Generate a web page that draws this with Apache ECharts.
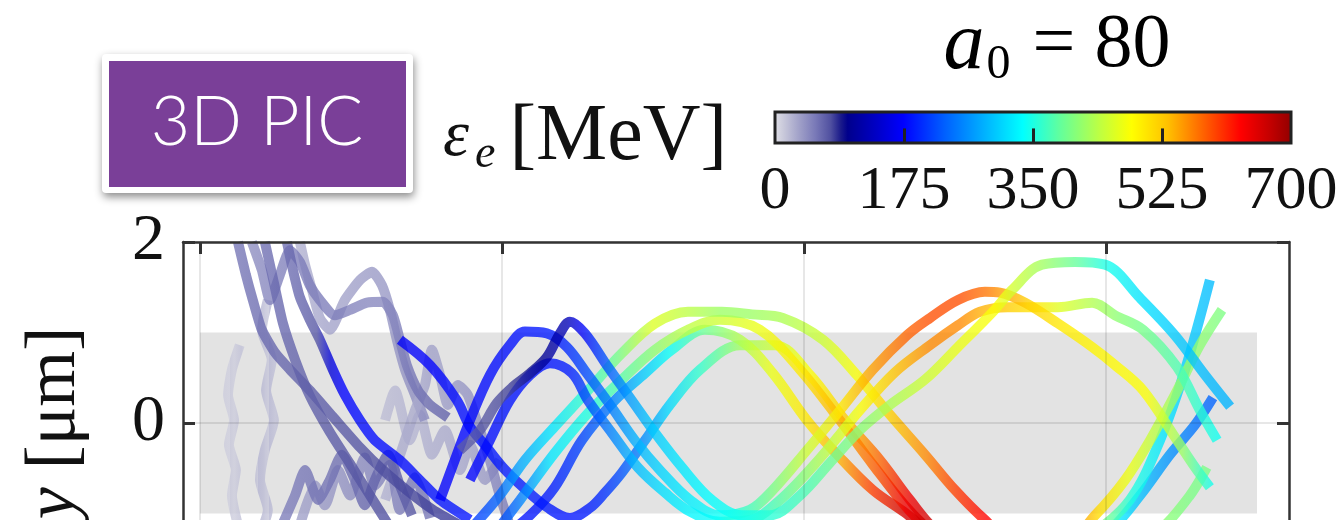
<!DOCTYPE html>
<html><head><meta charset="utf-8">
<script src="https://cdn.jsdelivr.net/npm/echarts@6/dist/echarts.min.js"></script>
<style>html,body{margin:0;padding:0;background:#fff}#c{width:1342px;height:520px}</style>
</head><body><div id="c"></div>
<script>
// ---------- data ----------
const X_TICKS = [0, 10, 20, 30];
const Y_RANGE = [-2, 2];
const Y_STEP = 2;
const BAND_X = [0, 35];
const BAND_Y = [-1, 1];
const CBAR_RANGE = [0, 700];
const CBAR_STEP = 175;
const CBAR_TICKS = [175, 350, 525];
// colormap (energy MeV -> colour)
const CMAP_E = [0, 14, 35, 56, 77, 91, 100, 140, 175, 231, 294, 336, 385, 441, 483, 532, 581, 630, 672, 700];
const CMAP_C = ['#e2e2e8', '#c8c8da', '#a0a0c8', '#7a7ab8', '#5050a0', '#1a1a8a', '#00008c', '#0000c8', '#0000ff', '#0060ff', '#00c0ff', '#00ffff', '#60ff9f', '#c0ff40', '#ffff00', '#ffc000', '#ff6000', '#ff0000', '#c00000', '#900000'];

// trajectories: [x, y (um), energy (MeV)]
const TRAJ_NF = [[1.32,0.86,12],[1.06,0.59,10],[0.93,0.31,10],[1.13,0.03,12],[0.96,-0.24,12],[1.19,-0.52,15],[1.06,-0.80,15],[1.26,-1.13,18]];
const TRAJ_NG = [[2.25,1.36,15],[2.05,1.03,15],[2.38,0.70,18],[2.19,0.36,18],[2.45,0.03,20],[2.15,-0.30,22],[1.99,-0.63,22],[2.25,-0.96,25],[2.05,-1.18,25]];
const TRAJ_NK = [[6.13,0.03,20],[6.46,0.36,22],[6.95,-0.19,25],[7.28,0.09,25],[7.68,-0.35,28],[8.11,-0.08,30],[8.61,-0.52,32],[8.94,-0.24,35],[9.44,-0.63,40],[9.93,-0.41,45]];
const TRAJ_ND = [[3.31,2.00,25],[3.48,1.75,28],[3.71,1.47,30],[3.97,1.16,32],[4.30,1.03,35],[4.80,1.36,35],[5.30,1.58,38],[5.70,1.67,40],[6.03,1.52,40],[6.29,1.25,42],[6.52,0.92,42],[6.79,0.59,45],[7.12,0.31,45],[7.45,0.03,48]];
const TRAJ_NE = [[6.13,-0.85,25],[6.46,-0.52,28],[6.79,-0.19,30],[7.12,0.14,30],[7.45,0.42,32],[7.68,0.81,35],[7.95,0.53,35],[8.21,0.20,38],[8.54,0.42,40],[8.87,0.31,42],[9.21,-0.02,45],[9.60,-0.41,50],[9.93,-0.80,55],[10.26,-1.13,60]];
const TRAJ_NJ = [[3.31,-1.13,35],[3.81,-0.69,38],[4.14,-0.91,40],[4.57,-0.52,42],[4.97,-0.80,45],[5.46,-0.38,48],[5.79,-0.69,50],[6.29,-0.46,52],[6.62,-0.96,55],[7.12,-0.60,58],[7.62,-1.05,60]];
const TRAJ_NH = [[2.72,-1.13,55],[3.15,-0.80,56],[3.48,-0.52,58],[3.91,-0.85,60],[4.30,-0.63,60],[4.70,-0.35,62],[5.13,-0.63,64],[5.46,-0.91,66],[5.79,-0.63,68],[6.23,-0.35,70],[6.62,-0.69,72],[7.02,-1.02,75]];
const TRAJ_NC = [[1.72,2.00,45],[2.05,1.69,48],[2.32,1.36,50],[2.65,1.64,52],[2.98,1.91,54],[3.31,1.78,55],[3.64,1.52,56],[3.97,1.36,56],[4.47,1.19,55],[4.97,1.25,52],[5.53,1.33,50],[6.06,1.34,50],[6.39,1.19,52],[6.62,0.92,55],[6.85,0.64,58],[7.22,0.36,62],[7.62,0.20,66],[8.21,0.06,70]];
const TRAJ_NL = [[2.15,2.00,62],[2.45,1.55,64],[2.75,1.10,66],[3.15,0.70,68],[3.64,0.30,70],[4.30,-0.10,72],[4.97,-0.45,74],[5.63,-0.80,76],[6.29,-1.15,78]];
const TRAJ_NA = [[1.26,2.00,58],[1.52,1.64,60],[1.75,1.36,62],[2.05,1.03,64],[2.48,0.78,66],[2.98,0.59,68],[3.64,0.36,70],[4.40,0.07,72],[5.30,-0.27,75],[6.06,-0.52,78],[6.95,-0.77,80],[7.72,-0.96,82],[8.61,-1.13,85]];
const TRAJ_NB = [[2.88,2.00,62],[3.08,1.69,64],[3.31,1.39,66],[3.64,1.14,70],[3.97,0.92,75],[4.40,0.59,150],[4.80,0.31,175],[5.30,0.03,180],[5.79,-0.19,180],[6.62,-0.41,180],[7.28,-0.63,182],[7.95,-0.85,185],[8.94,-1.07,185]];
const TRAJ_F1D = [[6.62,0.92,170],[7.62,0.64,175],[8.51,0.25,180],[8.94,-0.04,182],[9.50,-0.27,185],[10.03,-0.49,188],[10.70,-0.71,190],[11.49,-0.93,190],[12.25,-1.05,185],[12.91,-0.94,190],[13.41,-0.77,200],[13.97,-0.55,220],[14.74,-0.19,260],[15.56,0.20,310],[16.56,0.59,360],[17.88,0.86,420],[19.04,0.86,450],[20.20,0.53,480],[21.36,0.03,520],[22.52,-0.41,580],[23.51,-0.85,640],[24.34,-1.18,670],[26.16,-1.68,600],[28.48,-1.68,480],[30.46,-1.46,420],[31.79,-1.18,410],[32.78,-0.80,400],[33.34,-0.49,400]];
const TRAJ_F1C = [[9.93,-1.29,180],[10.93,-1.02,185],[11.75,-0.71,190],[12.65,-0.19,210],[13.74,0.25,250],[14.74,0.55,300],[15.63,0.81,340],[16.72,1.03,390],[17.88,0.92,430],[18.97,0.55,470],[20.10,0.03,500],[21.19,-0.38,540],[22.28,-0.74,600],[23.34,-0.99,660],[24.50,-1.29,680],[26.49,-1.62,600],[28.48,-1.51,460],[30.13,-1.18,330],[31.13,-0.80,290],[32.12,-0.35,260],[32.95,-0.02,240],[33.54,0.28,230]];
const TRAJ_F1B = [[9.60,-1.29,200],[10.60,-0.85,240],[11.75,-0.33,320],[12.85,0.11,350],[13.97,0.48,380],[15.07,0.81,410],[16.16,1.03,440],[17.22,1.14,450],[18.54,1.03,470],[19.87,0.59,500],[21.19,0.03,540],[22.28,-0.46,580],[23.34,-0.91,640],[24.17,-1.18,670],[25.83,-1.51,640],[27.81,-1.51,520],[29.47,-1.24,420],[30.79,-0.85,350],[31.79,-0.19,320],[32.62,0.59,300],[33.44,1.58,290]];
const TRAJ_F1A = [[8.94,-1.18,200],[9.93,-0.80,230],[10.76,-0.41,280],[11.75,-0.04,320],[12.85,0.36,360],[13.97,0.77,400],[15.07,1.10,460],[16.16,1.23,440],[17.28,1.23,420],[18.28,1.20,420],[19.30,1.16,430],[20.63,0.92,450],[21.75,0.53,480],[22.85,0.09,520],[24.01,-0.35,560],[25.00,-0.74,600],[25.99,-1.07,630],[27.15,-1.38,620],[28.48,-1.38,580],[29.64,-1.02,510],[30.63,-0.63,470],[31.46,-0.19,440],[32.28,0.31,420],[33.11,0.86,410],[33.84,1.25,400]];
const TRAJ_S3 = [[8.94,-0.63,175],[9.60,-0.19,180],[10.26,0.25,185],[10.93,0.53,185],[11.59,0.66,185],[12.32,0.55,190],[12.85,0.25,210],[13.64,-0.11,250],[14.50,-0.49,290],[15.40,-0.77,315],[16.23,-0.98,330],[17.22,-1.09,340],[18.21,-1.07,350],[19.21,-0.85,380],[20.53,-0.39,430],[21.85,0.14,480],[23.01,0.56,530],[24.17,0.86,560],[25.10,1.08,560],[25.83,1.23,540],[26.75,1.28,520],[27.65,1.28,500],[28.41,1.28,460],[29.54,1.33,430],[30.30,1.19,410],[31.23,1.03,395],[32.35,0.62,375],[33.11,0.14,355],[33.68,-0.19,340]];
const TRAJ_S2 = [[7.95,-0.85,170],[8.44,-0.41,175],[8.94,0.03,178],[9.60,0.53,180],[10.26,0.86,182],[10.76,1.01,185],[11.49,0.99,188],[12.15,0.84,195],[12.81,0.55,215],[13.58,0.20,245],[14.40,-0.19,280],[15.23,-0.52,305],[16.23,-0.85,325],[17.22,-1.02,340],[18.21,-0.96,370],[18.97,-0.74,400],[20.10,-0.30,450],[21.19,0.14,500],[22.28,0.59,550],[23.41,0.97,580],[24.17,1.16,590],[25.10,1.36,590],[25.99,1.45,570],[26.49,1.44,550],[27.32,1.33,520],[28.41,1.10,500],[29.54,0.84,490],[30.30,0.64,485],[31.23,0.36,480],[32.35,-0.19,420],[32.95,-0.49,370],[33.44,-0.71,340]];
const TRAJ_S1 = [[8.61,-0.30,70],[9.27,-0.08,72],[9.83,0.22,75],[10.36,0.40,80],[10.93,0.55,90],[11.49,0.73,105],[11.92,0.99,120],[12.25,1.12,125],[12.75,0.99,170],[13.51,0.62,220],[14.30,0.25,270],[15.07,-0.11,300],[15.96,-0.49,320],[16.95,-0.85,335],[17.95,-1.02,345],[18.87,-1.02,355],[19.87,-0.80,370],[20.86,-0.44,390],[21.85,-0.08,410],[22.85,0.20,430],[24.01,0.48,450],[25.10,0.84,470],[26.23,1.22,480],[26.89,1.47,450],[27.88,1.75,420],[28.97,1.78,385],[29.97,1.75,345],[31.13,1.38,315],[32.28,0.97,300],[33.28,0.53,290],[34.11,0.18,285]];

const TRAJECTORIES = [TRAJ_NF, TRAJ_NG, TRAJ_NK, TRAJ_ND, TRAJ_NE, TRAJ_NJ, TRAJ_NH, TRAJ_NC, TRAJ_NL, TRAJ_NA, TRAJ_NB,
  TRAJ_F1D, TRAJ_F1C, TRAJ_F1B, TRAJ_F1A, TRAJ_S3, TRAJ_S2, TRAJ_S1];

// ---------- helpers ----------
const SERIF = "'Liberation Serif','DejaVu Serif',serif";
function hex2rgb(h){return [1,3,5].map(i=>parseInt(h.substr(i,2),16));}
function cmap(e){
  if (e <= CMAP_E[0]) return CMAP_C[0];
  for (let i = 1; i < CMAP_E.length; i++) {
    if (e <= CMAP_E[i]) {
      const t = (e - CMAP_E[i-1]) / (CMAP_E[i] - CMAP_E[i-1]);
      const a = hex2rgb(CMAP_C[i-1]), b = hex2rgb(CMAP_C[i]);
      const c = a.map((v,k)=>Math.round(v + (b[k]-v)*t));
      return 'rgb(' + c.join(',') + ')';
    }
  }
  return CMAP_C[CMAP_C.length-1];
}
function gradientFor(pts){
  const xs = pts.map(p=>p[0]);
  const x0 = Math.min(...xs), x1 = Math.max(...xs);
  const stops = pts.map(p=>({offset:(p[0]-x0)/(x1-x0), color:cmap(p[2])}))
    .sort((a,b)=>a.offset-b.offset);
  return {type:'linear', x:0, y:0, x2:1, y2:0, colorStops:stops};
}

const chart = echarts.init(document.getElementById('c'), null, {renderer:'canvas'});

const trajSeries = TRAJECTORIES.map(pts => {
  const lowE = Math.max(...pts.map(p=>p[2])) < 200;
  return {
    type:'line', xAxisIndex:0, yAxisIndex:0, z:2, silent:true,
    data: pts.map(p=>[p[0], p[1]]),
    smooth: lowE ? 0.2 : 0.35, symbol:'none', clip:true,
    lineStyle:{width:10, color:gradientFor(pts), opacity:0.78},
    emphasis:{disabled:true}
  };
});

const frameLine = {show:true, onZero:false, lineStyle:{color:'#333', width:2.5}};
const gridLine = {show:true, lineStyle:{color:'rgba(0,0,0,0.13)', width:1.5}};

// tick marks as markLines (pairs of axis coordinates)
const TOP_TICK_LEN = 12 / 90.5;   // in y units
const CBAR_TICK_LEN = 0.47;       // fraction of bar height
function tickHolder(xIdx, yIdx, pairs, color){
  return {type:'line', xAxisIndex:xIdx, yAxisIndex:yIdx, z:20, silent:true,
    data:[pairs[0][0].coord], symbol:'none', lineStyle:{opacity:0}, showSymbol:false,
    markLine:{silent:true, symbol:['none','none'], animation:false, z:20,
      label:{show:false}, emphasis:{disabled:true},
      lineStyle:{color:color, width:3, type:'solid', opacity:1},
      data:pairs}};
}

const option = {
  animation:false,
  backgroundColor:'#fff',
  grid:[
    {left:183, top:242, width:1106, height:362, show:false, outerBoundsMode:'none', containLabel:false},
    {left:775, top:112, width:516, height:31, show:false, outerBoundsMode:'none', containLabel:false}
  ],
  xAxis:[
    {gridIndex:0, type:'value', min:-0.56, max:36.06, position:'top', z:5,
     axisLine:frameLine,
     axisTick:{show:true, inside:true, length:12, customValues:X_TICKS, lineStyle:{color:'#333', width:3}},
     axisLabel:{show:false, customValues:X_TICKS},
     splitLine:gridLine},
    {gridIndex:1, type:'value', min:CBAR_RANGE[0], max:CBAR_RANGE[1], interval:CBAR_STEP, position:'bottom', z:10,
     axisLine:{show:false, onZero:false},
     axisTick:{show:false},
     axisLabel:{fontFamily:SERIF, fontSize:62, color:'#111', margin:18},
     splitLine:{show:false}}
  ],
  yAxis:[
    {gridIndex:0, type:'value', min:Y_RANGE[0], max:Y_RANGE[1], interval:Y_STEP, position:'left', z:5,
     axisLine:frameLine,
     axisTick:{show:true, inside:true, length:12, lineStyle:{color:'#333', width:3}},
     axisLabel:{fontFamily:SERIF, fontSize:66, color:'#111', margin:18},
     splitLine:gridLine,
     name:'{i|y} [μm]', nameLocation:'middle', nameRotate:90, nameGap:92,
     nameTextStyle:{fontFamily:SERIF, fontSize:72, color:'#111',
       rich:{i:{fontFamily:SERIF, fontStyle:'italic', fontSize:72, color:'#111'}}}},
    {gridIndex:0, type:'value', min:Y_RANGE[0], max:Y_RANGE[1], interval:Y_STEP, position:'right', z:5,
     axisLine:frameLine,
     axisTick:{show:true, inside:true, length:12, lineStyle:{color:'#333', width:3}},
     axisLabel:{show:false}, splitLine:{show:false}},
    {gridIndex:1, type:'value', min:0, max:1, show:false}
  ],
  series:[
    {type:'custom', xAxisIndex:0, yAxisIndex:0, z:1, silent:true,
     data:[[BAND_X[0], BAND_Y[0], BAND_X[1], BAND_Y[1]]],
     encode:{x:[0,2], y:[1,3]},
     renderItem:(params, api)=>{
       const p0 = api.coord([api.value(0), api.value(3)]);
       const p1 = api.coord([api.value(2), api.value(1)]);
       return {type:'rect', shape:{x:p0[0], y:p0[1], width:p1[0]-p0[0], height:p1[1]-p0[1]},
               style:{fill:'#e3e3e3'}};
     }},
    {type:'custom', xAxisIndex:1, yAxisIndex:2, z:3, silent:true,
     data:[[CBAR_RANGE[0], CBAR_RANGE[1]]],
     encode:{x:[0,1]},
     renderItem:(params, api)=>{
       const p0 = api.coord([api.value(0), 1]);
       const p1 = api.coord([api.value(1), 0]);
       const span = CBAR_RANGE[1]-CBAR_RANGE[0];
       return {type:'rect', shape:{x:p0[0], y:p0[1], width:p1[0]-p0[0], height:p1[1]-p0[1]},
         style:{stroke:'#222', lineWidth:3,
           fill:{type:'linear', x:0, y:0, x2:1, y2:0,
                 colorStops:CMAP_E.map((e,i)=>({offset:(e-CBAR_RANGE[0])/span, color:CMAP_C[i]}))}}};
     }},
    tickHolder(1, 2, CBAR_TICKS.map(t=>[{coord:[t, 0]}, {coord:[t, CBAR_TICK_LEN]}]), '#222'),
    tickHolder(0, 0, X_TICKS.map(t=>[{coord:[t, Y_RANGE[1]]}, {coord:[t, Y_RANGE[1]-TOP_TICK_LEN]}]), '#333'),
    ...trajSeries
  ],
  graphic:[
    {type:'group', children:[
      {type:'rect', shape:{x:102, y:54, width:311, height:139, r:4},
       style:{fill:'#fff', shadowBlur:8, shadowColor:'rgba(0,0,0,0.45)', shadowOffsetY:4, shadowOffsetX:1}},
      {type:'rect', shape:{x:109, y:61, width:297, height:126}, style:{fill:'#7a3f98'}},
      {type:'text', x:257, y:123, style:{text:'3D PIC', fill:'#fff', font:"300 68px Lato, 'Open Sans', sans-serif",
        align:'center', verticalAlign:'middle'}}
    ]},
    {type:'text', x:443, y:138, style:{
      text:'{e|ε}{s|e}{b|[MeV]}', align:'left', verticalAlign:'middle',
      rich:{
        e:{fontFamily:SERIF, fontStyle:'italic', fontSize:66, fill:'#111', color:'#111'},
        s:{fontFamily:SERIF, fontStyle:'italic', fontSize:46, fill:'#111', color:'#111', padding:[34,0,0,6]},
        b:{fontFamily:SERIF, fontSize:80, fill:'#111', color:'#111', padding:[0,0,0,14]}
      }}},
    {type:'text', x:1057, y:46, style:{
      text:'{a|a}{s|0}{n|= 80}', align:'center', verticalAlign:'middle',
      rich:{
        a:{fontFamily:SERIF, fontStyle:'italic', fontSize:82, fill:'#000', color:'#000'},
        s:{fontFamily:SERIF, fontSize:48, fill:'#000', color:'#000', padding:[38,0,0,2]},
        n:{fontFamily:SERIF, fontSize:76, fill:'#000', color:'#000', padding:[0,0,0,22]}
      }}}
  ]
};
chart.setOption(option);
</script>
</body></html>
